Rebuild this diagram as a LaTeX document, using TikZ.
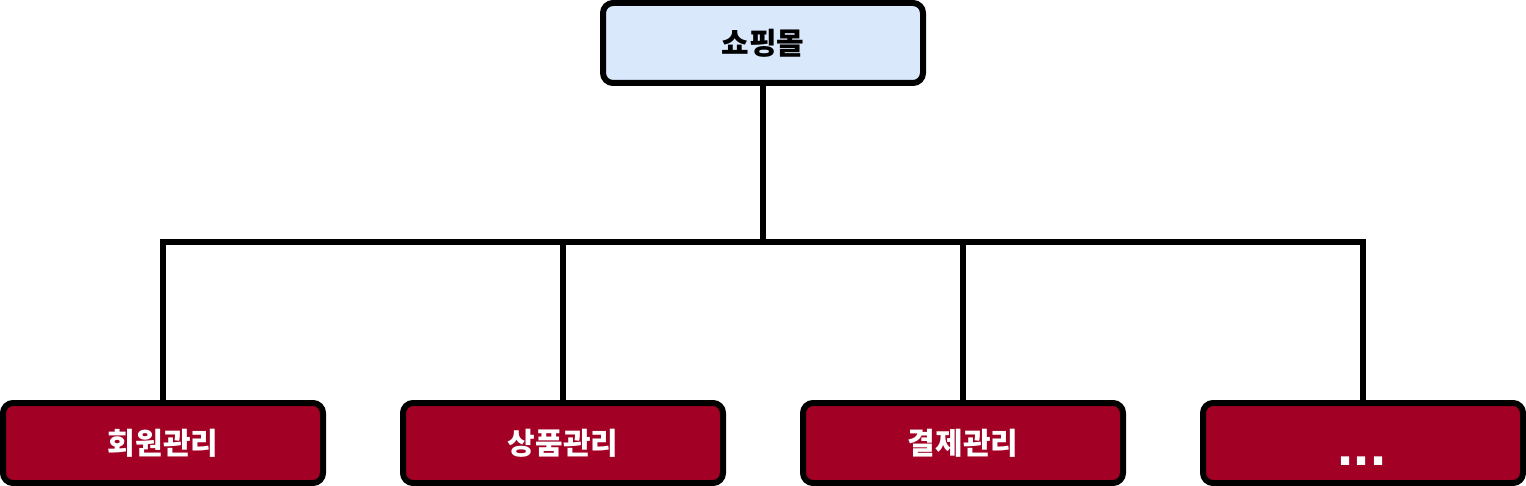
\documentclass[tikz,border=0pt]{standalone}
\usepackage{fontspec}
\newfontfamily\kr{Noto Sans CJK KR}
\newfontfamily\dotfont{Liberation Sans}
\definecolor{topfill}{HTML}{DAE8FC}
\definecolor{redfill}{HTML}{A20025}
\begin{document}
\begin{tikzpicture}[x=1pt,y=-1pt,
  boxbase/.style={draw=black,line width=6pt,rounded corners=10pt,minimum width=320pt,minimum height=80pt,inner sep=0pt,font=\kr\bfseries\fontsize{30}{34}\selectfont},
  topbox/.style={boxbase,fill=topfill,text=black},
  subbox/.style={boxbase,fill=redfill,text=white},
  link/.style={line width=5.5pt}]
\useasboundingbox (0,0) rectangle (1526,486);
\node[topbox] (root) at (763,43) {쇼핑몰};
\node[subbox] (a) at (163,443) {회원관리};
\node[subbox] (b) at (563,443) {상품관리};
\node[subbox] (c) at (963,443) {결제관리};
\node[subbox] (d) at (1363,443) {};
\node[text=white,font=\dotfont\bfseries\fontsize{58}{62}\selectfont,inner sep=0pt,anchor=base] (dots) at (1362,465) {...};
\coordinate (j) at (763,242);
\draw[link] (root.south) -- (j);
\draw[link] (a.north) |- (j) -| (d.north);
\draw[link] (b.north) -- (b.north |- j);
\draw[link] (c.north) -- (c.north |- j);
\end{tikzpicture}
\end{document}
